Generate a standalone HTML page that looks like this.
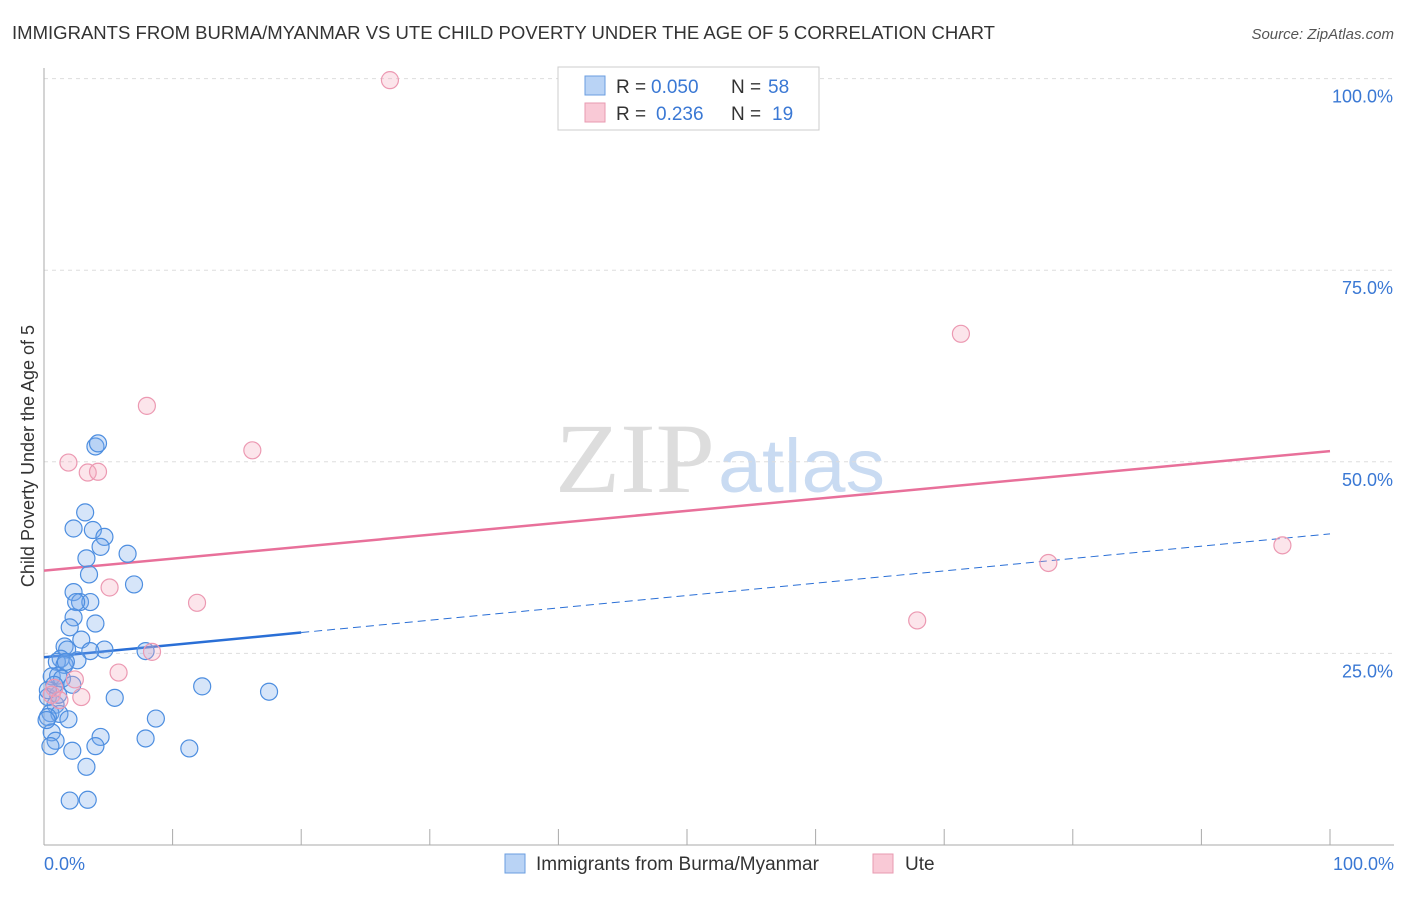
<!DOCTYPE html>
<html><head><meta charset="utf-8"><style>
body{margin:0;background:#fff;font-family:"Liberation Sans",sans-serif;}
</style></head><body>
<svg width="1406" height="892" xmlns="http://www.w3.org/2000/svg">
<text x="12" y="39" font-size="18" fill="#333" textLength="983" lengthAdjust="spacingAndGlyphs">IMMIGRANTS FROM BURMA/MYANMAR VS UTE CHILD POVERTY UNDER THE AGE OF 5 CORRELATION CHART</text>
<text x="1394" y="39" font-size="15" fill="#555" font-style="italic" text-anchor="end">Source: ZipAtlas.com</text>
<text x="555" y="492" font-size="100" fill="#ddd" textLength="160" lengthAdjust="spacingAndGlyphs" font-family="Liberation Serif,serif">ZIP</text>
<text x="718" y="492" font-size="76" fill="#c9dbf2" textLength="167" lengthAdjust="spacingAndGlyphs">atlas</text>
<g id="grid"></g>
<line x1="44" y1="68" x2="44" y2="845" stroke="#aaa"/>
<line x1="44" y1="845" x2="1394" y2="845" stroke="#aaa"/>
<text transform="translate(34,456) rotate(-90)" font-size="18" fill="#333" text-anchor="middle">Child Poverty Under the Age of 5</text>
<text x="44" y="870" font-size="18" fill="#3a78d4">0.0%</text>
<text x="1394" y="870" font-size="18" fill="#3a78d4" text-anchor="end">100.0%</text>
<g id="lines"></g>
<g id="pts"></g>
<g>
<rect x="558" y="67" width="261" height="63" fill="#fff" stroke="#ccc"/>
<rect x="585" y="76" width="20" height="19" fill="#b9d3f5" stroke="#6a9ee0"/>
<rect x="585" y="103" width="20" height="19" fill="#f9c9d6" stroke="#e89ab0"/>
<text x="616" y="93" font-size="19" fill="#333">R =</text>
<text x="651" y="93" font-size="19" fill="#3a78d4">0.050</text>
<text x="731" y="93" font-size="19" fill="#333">N =</text>
<text x="768" y="93" font-size="19" fill="#3a78d4">58</text>
<text x="616" y="120" font-size="19" fill="#333">R =</text>
<text x="656" y="120" font-size="19" fill="#3a78d4">0.236</text>
<text x="731" y="120" font-size="19" fill="#333">N =</text>
<text x="772" y="120" font-size="19" fill="#3a78d4">19</text>
</g>
<g>
<rect x="505" y="854" width="20" height="19" fill="#b9d3f5" stroke="#6a9ee0"/>
<text x="536" y="870" font-size="19" fill="#333">Immigrants from Burma/Myanmar</text>
<rect x="873" y="854" width="20" height="19" fill="#f9c9d6" stroke="#e89ab0"/>
<text x="905" y="870" font-size="19" fill="#333">Ute</text>
</g>
</svg>
<script>
const yTicks=[25,50,75,100];
const blueX=[4.0,4.2,3.2,2.3,3.8,4.7,4.4,3.3,6.5,3.5,7.0,2.3,2.8,3.6,2.5,2.3,4.0,2.0,2.9,1.6,1.8,4.7,3.6,1.3,7.9,2.6,1.0,1.6,0.6,1.1,1.4,12.3,17.5,2.2,5.5,0.3,0.9,0.5,1.2,1.9,0.3,8.7,0.6,0.9,4.4,4.0,7.9,11.3,0.5,2.2,3.3,2.0,3.4,0.2,1.1,1.7,0.3,0.8];
const blueY=[52.0,52.4,43.4,41.3,41.1,40.2,38.9,37.4,38.0,35.3,34.0,33.0,31.7,31.7,31.7,29.7,28.9,28.4,26.8,25.9,25.5,25.5,25.3,24.3,25.3,24.1,23.9,23.5,22.0,22.1,21.7,20.7,20.0,20.9,19.2,19.3,18.3,17.2,17.1,16.4,16.7,16.5,14.7,13.6,14.1,12.9,13.9,12.6,12.9,12.3,10.2,5.8,5.9,16.3,19.6,23.9,20.2,20.9];
const pinkX=[26.9,71.3,8.0,16.2,1.9,3.4,4.2,5.1,11.9,96.3,78.1,67.9,8.4,5.8,2.4,0.8,2.9,0.6,1.2];
const pinkY=[99.8,66.7,57.3,51.5,49.9,48.6,48.7,33.6,31.6,39.1,36.8,29.3,25.2,22.5,21.6,20.5,19.3,19.6,18.9];
const blueTrend=[24.5,40.6], pinkTrend=[35.8,51.4], blueSolidEnd=20;
const X=v=>44+v*12.86, Y=v=>845-v*7.664;
const NS="http://www.w3.org/2000/svg";
const mk=(t,a,p)=>{const e=document.createElementNS(NS,t);for(const k in a)e.setAttribute(k,a[k]);document.getElementById(p).appendChild(e);return e;};
yTicks.forEach(t=>{
 const l=mk('line',{x1:44,x2:1394,y1:Y(t),y2:Y(t),stroke:'#ddd','stroke-dasharray':'4,4'},'grid');
 
 
 const tx=mk('text',{x:1393,y:Y(t)+24,'font-size':18,fill:'#3a78d4','text-anchor':'end'},'grid');
 tx.textContent=t.toFixed(1)+'%';
 
 
});
for(let i=0;i<=10;i++){
 const l=mk('line',{x1:X(i*10),x2:X(i*10),y1:829,y2:845,stroke:'#aaa'},'grid');
 
 
}
const bt=v=>blueTrend[0]+(blueTrend[1]-blueTrend[0])*v/100;
let l1=mk('line',{x1:X(0),y1:Y(bt(0)),x2:X(blueSolidEnd),y2:Y(bt(blueSolidEnd)),stroke:'#2a6fd6','stroke-width':2.5},'lines');


let l2=mk('line',{x1:X(blueSolidEnd),y1:Y(bt(blueSolidEnd)),x2:X(100),y2:Y(bt(100)),stroke:'#2a6fd6','stroke-width':1,'stroke-dasharray':'8,5'},'lines');


let l3=mk('line',{x1:X(0),y1:Y(pinkTrend[0]),x2:X(100),y2:Y(pinkTrend[1]),stroke:'#e8709a','stroke-width':2.5},'lines');


blueX.forEach((x,i)=>{
 const c=mk('circle',{cx:X(x),cy:Y(blueY[i]),r:8.5,fill:'rgba(120,170,235,0.3)',stroke:'#4d8ee0','stroke-width':1.2},'pts');
 
 
});
pinkX.forEach((x,i)=>{
 const c=mk('circle',{cx:X(x),cy:Y(pinkY[i]),r:8.5,fill:'rgba(245,170,190,0.3)',stroke:'#ec99b2','stroke-width':1.2},'pts');
 
 
});
</script>
</body></html>
